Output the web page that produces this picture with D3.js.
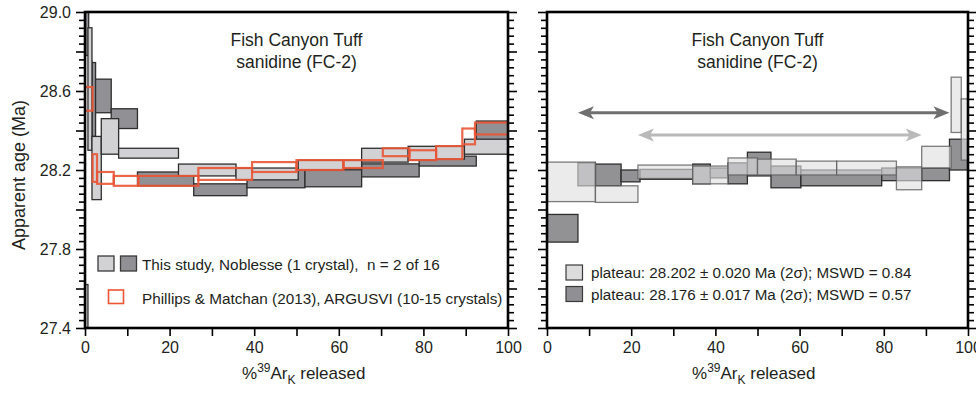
<!DOCTYPE html>
<html>
<head>
<meta charset="utf-8">
<script src="https://cdn.jsdelivr.net/npm/d3@7"></script>
<style>
  body { margin: 0; background: #fff; }
  svg { display: block; font-family: 'Liberation Sans', Arial, Helvetica, sans-serif; }
  text { fill: #231f20; white-space: pre; }
</style>
</head>
<body>
<svg width="976" height="393"></svg>
<script>
// left panel: cumulative %39Ar step edges, age (Ma) and 2-sigma error
const leftLightEdges = [0, 0.7, 1.65, 3.85, 7.95, 22.1, 35.7, 50.4, 61.1, 65.4, 76.4, 83, 89.7, 100];
const leftLightAge = [27.32, 28.61, 28.21, 28.37, 28.285, 28.20, 28.18, 28.225, 28.228, 28.275, 28.285, 28.288, 28.318];
const leftLightErr = [0.30, 0.31, 0.16, 0.09, 0.025, 0.03, 0.03, 0.025, 0.022, 0.035, 0.035, 0.033, 0.038];

const leftDarkEdges = [0, 0.87, 1.65, 2.5, 6.2, 12.4, 25.7, 38.3, 52, 65.4, 79, 92.5, 100];
const leftDarkAge = [28.95, 28.55, 28.557, 28.575, 28.46, 28.155, 28.10, 28.155, 28.158, 28.198, 28.245, 28.40];
const leftDarkErr = [0.17, 0.20, 0.187, 0.085, 0.05, 0.035, 0.03, 0.045, 0.043, 0.033, 0.025, 0.048];

// Phillips & Matchan (2013)
const pmEdges = [0, 1.8, 2.85, 6.8, 12.6, 26.8, 39.5, 50, 61.1, 70.4, 76.7, 83, 89.2, 92.2, 100];
const pmAge = [28.56, 28.21, 28.16, 28.145, 28.145, 28.18, 28.215, 28.225, 28.23, 28.29, 28.275, 28.288, 28.37, 28.41];
const pmErr = [0.06, 0.07, 0.03, 0.025, 0.025, 0.03, 0.025, 0.025, 0.02, 0.02, 0.025, 0.033, 0.04, 0.03];

// right panel
const rightLightEdges = [0, 11.5, 21.6, 34.6, 43, 50, 59.2, 68.8, 83, 89, 96, 98.4, 100];
const rightLightAge = [28.14, 28.078, 28.191, 28.175, 28.218, 28.215, 28.21, 28.21, 28.158, 28.265, 28.53, 28.405];
const rightLightErr = [0.10, 0.042, 0.034, 0.045, 0.043, 0.04, 0.035, 0.035, 0.058, 0.055, 0.14, 0.155];

const rightDarkEdges = [0, 7.35, 11.5, 17.6, 22.1, 34.6, 38.8, 43, 47.6, 53.2, 60.3, 79.5, 89, 95.6, 100];
const rightDarkAge = [27.905, 28.178, 28.175, 28.17, 28.178, 28.18, 28.185, 28.183, 28.23, 28.165, 28.16, 28.178, 28.178, 28.278];
const rightDarkErr = [0.07, 0.058, 0.055, 0.03, 0.025, 0.05, 0.025, 0.053, 0.06, 0.055, 0.04, 0.032, 0.032, 0.078];

// plateau step ranges (% released)
const darkPlateau = [7.35, 95.6];
const lightPlateau = [21.6, 89];

const xTicks = d3.range(0, 101, 10);
const ageTicks = d3.range(0, 41).map(i => +(27.4 + i * 0.04).toFixed(2));

const legendLeft = ['This study, Noblesse (1 crystal),  n = 2 of 16',
  'Phillips & Matchan (2013), ARGUSVI (10-15 crystals)'];
const legendRight = ['plateau: 28.202 \u00b1 0.020 Ma (2\u03c3); MSWD = 0.84',
  'plateau: 28.176 \u00b1 0.017 Ma (2\u03c3); MSWD = 0.57'];

const svg = d3.select('svg');
const y = d3.scaleLinear().domain([27.4, 29.0]).range([328, 12]);

const steps = (edges, age, err) => age.map((a, i) => ({
  x0: edges[i], x1: edges[i + 1], lo: a - err[i], hi: a + err[i]
}));

const panels = [
  { id: 'L', left: 85, right: 508, labels: true, xlab: 157 },
  { id: 'R', left: 547, right: 968, labels: false, xlab: 145 }
];

panels.forEach((p) => {
  p.x = d3.scaleLinear().domain([0, 100]).range([p.left, p.right]);
  p.g = svg.append('g');
  svg.append('clipPath').attr('id', `clip${p.id}`)
    .append('rect')
    .attr('x', p.left).attr('y', y(29.0))
    .attr('width', p.right - p.left).attr('height', y(27.4) - y(29.0));
  p.plot = p.g.append('g').attr('clip-path', `url(#clip${p.id})`);
});

const drawBoxes = (p, data, style) => {
  p.plot.append('g')
    .selectAll('rect')
    .data(data)
    .enter()
    .append('rect')
    .attr('x', d => p.x(d.x0))
    .attr('width', d => p.x(d.x1) - p.x(d.x0))
    .attr('y', d => y(d.hi))
    .attr('height', d => y(d.lo) - y(d.hi))
    .attr('fill', style.fill)
    .attr('fill-opacity', style.fillOpacity || 1)
    .attr('stroke', style.stroke)
    .attr('stroke-opacity', style.strokeOpacity || 1)
    .attr('stroke-width', style.width);
};

const [pL, pR] = panels;

// left panel spectra
drawBoxes(pL, steps(leftDarkEdges, leftDarkAge, leftDarkErr),
  { fill: '#919195', stroke: '#2e2e2e', width: 1.3 });
drawBoxes(pL, steps(leftLightEdges, leftLightAge, leftLightErr),
  { fill: '#d2d2d4', stroke: '#2e2e2e', width: 1.3 });
drawBoxes(pL, steps(pmEdges, pmAge, pmErr),
  { fill: 'none', stroke: '#ea5536', strokeOpacity: 0.9, width: 2.2 });

// right panel spectra
drawBoxes(pR, steps(rightDarkEdges, rightDarkAge, rightDarkErr),
  { fill: '#86868a', fillOpacity: 0.9, stroke: '#2e2e2e', width: 1.3 });
drawBoxes(pR, steps(rightLightEdges, rightLightAge, rightLightErr),
  { fill: '#dedede', fillOpacity: 0.62, stroke: '#5e5e5e', strokeOpacity: 0.8, width: 1.3 });

// plateau arrows
const arrow = (range, age, color) => {
  const x0 = pR.x(range[0]);
  const x1 = pR.x(range[1]);
  const yy = y(age);
  const g = pR.g.append('g');
  g.append('line')
    .attr('x1', x0 + 10).attr('x2', x1 - 10)
    .attr('y1', yy).attr('y2', yy)
    .attr('stroke', color).attr('stroke-width', 3);
  g.append('path')
    .attr('d', `M${x0},${yy}L${x0 + 16},${yy - 6.5}L${x0 + 12},${yy}L${x0 + 16},${yy + 6.5}Z`)
    .attr('fill', color);
  g.append('path')
    .attr('d', `M${x1},${yy}L${x1 - 16},${yy - 6.5}L${x1 - 12},${yy}L${x1 - 16},${yy + 6.5}Z`)
    .attr('fill', color);
};
arrow(darkPlateau, 28.49, '#6f6f6f');
arrow(lightPlateau, 28.377, '#b9b9b9');

// axes
panels.forEach((p) => {
  const major = ageTicks.filter((t, i) => i % 5 === 0);
  const minor = ageTicks.filter((t, i) => i % 5 !== 0);
  const fmt = t => (p.labels && Math.round((t - 27.4) * 100) % 40 === 0 ? d3.format('.1f')(t) : '');

  const styleAxis = (sel) => {
    sel.select('.domain').remove();
    sel.selectAll('line').attr('stroke', '#000').attr('stroke-width', 1.6);
    sel.selectAll('text').attr('font-size', 16).style('fill', '#231f20')
      .attr('font-family', "'Liberation Sans', Arial, sans-serif");
  };

  p.g.append('g').attr('transform', `translate(${p.left},0)`)
    .call(d3.axisLeft(y).tickValues(major).tickSize(9).tickPadding(5).tickFormat(fmt))
    .call(styleAxis);
  p.g.append('g').attr('transform', `translate(${p.left},0)`)
    .call(d3.axisLeft(y).tickValues(minor).tickSize(6).tickFormat(''))
    .call(styleAxis);
  p.g.append('g').attr('transform', `translate(${p.right},0)`)
    .call(d3.axisRight(y).tickValues(major).tickSize(9).tickFormat(''))
    .call(styleAxis);
  p.g.append('g').attr('transform', `translate(${p.right},0)`)
    .call(d3.axisRight(y).tickValues(minor).tickSize(6).tickFormat(''))
    .call(styleAxis);
  p.g.append('g').attr('transform', `translate(0,${y(27.4)})`)
    .call(d3.axisBottom(p.x).tickValues(xTicks).tickSize(8).tickPadding(6)
      .tickFormat(t => (t % 20 === 0 ? t : '')))
    .call(styleAxis);

  p.g.append('rect')
    .attr('x', p.left).attr('y', y(29.0))
    .attr('width', p.right - p.left).attr('height', y(27.4) - y(29.0))
    .attr('fill', 'none').attr('stroke', '#000').attr('stroke-width', 2.6);

  // title
  const cx = (p.left + p.right) / 2;
  p.g.append('text').attr('x', cx).attr('y', 46).attr('text-anchor', 'middle')
    .attr('font-size', 17.5).text('Fish Canyon Tuff');
  p.g.append('text').attr('x', cx).attr('y', 68).attr('text-anchor', 'middle')
    .attr('font-size', 17.5).text('sanidine (FC-2)');

  // x label
  const xl = p.g.append('text').attr('x', p.left + p.xlab).attr('y', 379)
    .attr('text-anchor', 'start').attr('font-size', 17);
  xl.append('tspan').text('%');
  xl.append('tspan').attr('dy', -7).attr('font-size', 12).text('39');
  xl.append('tspan').attr('dy', 7).text('Ar');
  xl.append('tspan').attr('dy', 5).attr('font-size', 12).text('K');
  xl.append('tspan').attr('dy', -5).text(' released');
});

svg.append('text')
  .attr('transform', 'translate(25,175) rotate(-90)')
  .attr('text-anchor', 'middle').attr('font-size', 18)
  .text('Apparent age (Ma)');

// left legend
const lg = svg.append('g');
lg.append('rect').attr('x', 98).attr('y', 256).attr('width', 16).attr('height', 15)
  .attr('fill', '#d2d2d4').attr('stroke', '#3a3a3a').attr('stroke-width', 1.3);
lg.append('rect').attr('x', 120.5).attr('y', 256).attr('width', 16).attr('height', 15)
  .attr('fill', '#919195').attr('stroke', '#3a3a3a').attr('stroke-width', 1.3);
lg.append('rect').attr('x', 108.5).attr('y', 290).attr('width', 15).attr('height', 13.5)
  .attr('fill', 'none').attr('stroke', '#ea5536').attr('stroke-width', 1.6);
lg.selectAll('text.lab').data(legendLeft).enter().append('text')
  .attr('class', 'lab')
  .attr('x', 142).attr('y', (d, i) => 269.5 + i * 34)
  .attr('font-size', 15.3).text(d => d);

// right legend
const rg = svg.append('g');
rg.selectAll('rect').data(['#dcdcdc', '#909094']).enter().append('rect')
  .attr('x', 566).attr('y', (d, i) => 265 + i * 21.5)
  .attr('width', 16.5).attr('height', 15)
  .attr('fill', d => d).attr('stroke', '#3a3a3a').attr('stroke-width', 1.2);
rg.selectAll('text').data(legendRight).enter().append('text')
  .attr('x', 591).attr('y', (d, i) => 278 + i * 21.5)
  .attr('font-size', 15.2).text(d => d);
</script>
</body>
</html>
